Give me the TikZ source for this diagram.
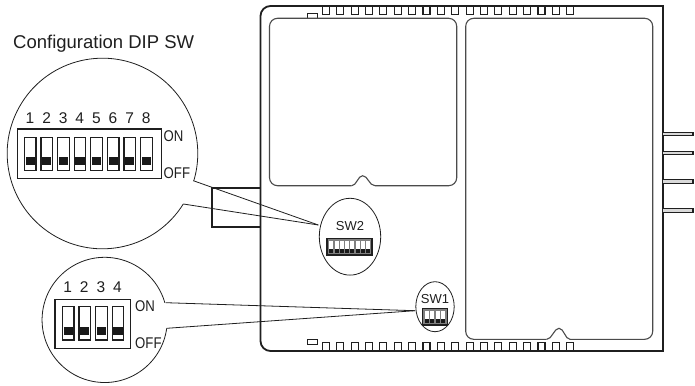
\documentclass[tikz,border=0pt]{standalone}
\usepackage{fontspec}
\setmainfont{Liberation Sans}
\usetikzlibrary{calc,positioning}
\definecolor{inkgray}{gray}{0.12}
\newcommand{\narrowtext}[1]{\scalebox{0.85}[1]{#1}}
\tikzset{
  boardline/.style={draw=inkgray, line width=1.8pt},
  panelline/.style={draw=inkgray!80, line width=1.1pt, rounded corners=8},
  slotbox/.style={draw=inkgray, line width=1.1pt},
  lensline/.style={draw=inkgray, line width=0.8pt},
  swbox/.style={draw=inkgray, line width=1.2pt, fill=white},
  dipbox/.style={draw=inkgray, line width=1.2pt},
  biglabel/.style={text=inkgray, inner sep=0pt, font=\fontsize{18.5}{20}\selectfont},
  numlabel/.style={text=inkgray, inner sep=0pt, font=\fontsize{15.5}{17}\selectfont},
  statelabel/.style={text=inkgray, inner sep=0pt, anchor=west, font=\fontsize{15.5}{17}\selectfont},
  swlabel/.style={text=inkgray, inner sep=0pt, font=\fontsize{13}{15}\selectfont},
}

\begin{document}
\begin{tikzpicture}[x=1pt, y=-1pt]
\useasboundingbox (0,0) rectangle (695,385);

% Connector on the left side
\draw[boardline] (260.5,188.3) -- (212.3,188.3) -- (212.3,226.7) -- (260.5,226.7);

% Board outline
\draw[boardline, rounded corners=10] (662.7,6) -- (260.5,6) -- (260.5,351) -- (662.7,351);
\draw[boardline] (662.7,5.1) -- (662.7,351.9);

% Slots along top and bottom edges
\foreach \i in {0,...,17} {
  \draw[slotbox] ({322.4+14.37*\i},6) rectangle ++(7,8.8);
  \draw[slotbox] ({322.4+14.37*\i},342.8) rectangle ++(7,8.2);
}
\draw[slotbox] (307.3,13.3) rectangle (317.7,18.3);
\draw[slotbox] (307.3,339.3) rectangle (317.7,344.3);

% Pins on the right side
\foreach \ypin in {134,153,181.7,210.7} {
  \draw[slotbox, fill=black!15] (662.7,\ypin-1.8) rectangle (693,\ypin+1.8);
}

% Left panel
\draw[panelline] (351.7,185.7) -- (269.5,185.7) -- (269.5,18.3) -- (456.7,18.3) -- (456.7,185.7) -- (375,185.7);
\draw[panelline, sharp corners] (375,185.7) .. controls (369,185.7) and (368,175.7) .. (362.6,175.7)
  .. controls (358,175.7) and (356.5,185.7) .. (351.7,185.7);

% Right panel
\draw[panelline] (546.7,339.3) -- (465.7,339.3) -- (465.7,18.3) -- (652.7,18.3) -- (652.7,339.3) -- (570,339.3);
\draw[panelline, sharp corners] (570,339.3) .. controls (565,339.3) and (564,328.3) .. (559,328.3)
  .. controls (554,328.3) and (552,339.3) .. (546.7,339.3);

% SW2 on the board
\draw[lensline, fill=white] (350,236.7) ellipse (30.7 and 38.4);
\node[swlabel] (swtwo) at (350,226) {SW2};
\draw[dipbox, fill=black!50] (327,238.5) rectangle (372,255);
\foreach \i in {0,...,7} {
  \fill[white] ({329.2+5.3*\i},240.5) rectangle ++(4,8.5);
  \fill[black!90] ({329.2+5.3*\i},249) rectangle ++(4,4);
}

% SW1 on the board
\draw[lensline, fill=white] (435,306.7) ellipse (19.2 and 25);
\node[swlabel] (swone) at (435,299.5) {SW1};
\draw[dipbox, fill=black!50] (422.7,308.3) rectangle (447.7,325);
\foreach \i in {0,...,3} {
  \fill[white] ({424.7+5.5*\i},310.5) rectangle ++(4,8);
  \fill[black!90] ({424.7+5.5*\i},318.5) rectangle ++(4,4.5);
}

% Leader points
\coordinate (tiptwo) at (318.3,225);
\coordinate (tipone) at (415,310.7);
\coordinate (bigup) at (193.3,180.7);
\coordinate (biglow) at (183.3,204);
\coordinate (smallup) at (165.7,302.7);
\coordinate (smalllow) at (166.7,328.3);

% Large lens, eight way switch
\node[biglabel] (title) at (103.7,43.5) {Configuration DIP SW};
\draw[lensline] (biglow) arc (32:376.8:95.3);
\draw[lensline] (bigup) -- (tiptwo);
\draw[lensline] (biglow) -- (tiptwo);
\draw[dipbox] (17.3,129) rectangle (161.3,178.3);
\foreach \i in {1,...,8} {
  \draw[swbox] ({24.3+16.6*(\i-1)},137.3) rectangle ++(11.7,33.4);
  \fill[black!90] ({25.6+16.6*(\i-1)},156.7) rectangle ++(9.1,8.3);
  \node[numlabel] (bignum\i) at ({30+16.6*(\i-1)},118.3) {\i};
}
\node[statelabel] (bigon) at (163.5,136) {\narrowtext{ON}};
\node[statelabel] (bigoff) at (163.5,173.3) {\narrowtext{OFF}};

% Small lens, four way switch
\draw[lensline] (smalllow) arc (7.7:344.1:62.6);
\draw[lensline] (smallup) -- (tipone);
\draw[lensline] (smalllow) -- (tipone);
\draw[dipbox] (55,299.3) rectangle (130.7,348.3);
\foreach \i in {1,...,4} {
  \draw[swbox] ({62.3+16.6*(\i-1)},306.7) rectangle ++(11.7,33.3);
  \fill[black!90] ({63.6+16.6*(\i-1)},326.7) rectangle ++(9.1,8.6);
  \node[numlabel] (smallnum\i) at ({67.7+16.6*(\i-1)},286.7) {\i};
}
\node[statelabel] (smallon) at (135,306) {\narrowtext{ON}};
\node[statelabel] (smalloff) at (135,343.3) {\narrowtext{OFF}};
\end{tikzpicture}
\end{document}
